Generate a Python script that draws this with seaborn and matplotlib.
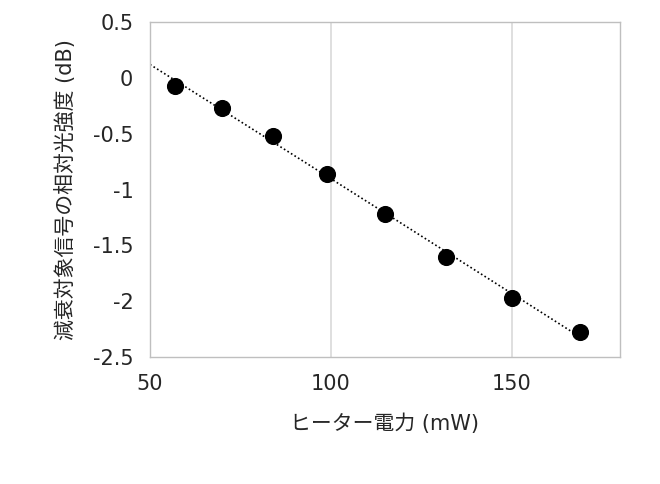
import numpy as np
import matplotlib
matplotlib.use("Agg")
import matplotlib.pyplot as plt
import seaborn as sns

power_mw = [57, 70, 84, 99, 115, 132, 150, 169]
rel_db = [-0.07, -0.27, -0.52, -0.86, -1.22, -1.60, -1.97, -2.28]
xticks = [50, 100, 150]
yticks = [0.5, 0, -0.5, -1, -1.5, -2, -2.5]
ytick_labels = ["0.5", "0", "-0.5", "-1", "-1.5", "-2", "-2.5"]

sns.set_style("white")
plt.rcParams['font.family'] = ['DejaVu Sans', 'Noto Sans CJK JP']

fig = plt.figure(figsize=(6.6, 4.84), dpi=100)
ax = fig.add_axes([150/660, 1-357/484, 470/660, 335/484])

coef = np.polyfit(power_mw, rel_db, 2)
xs = np.linspace(50, 170, 200)
ax.plot(xs, np.polyval(coef, xs), linestyle=(0, (1, 1.5)), color="black", lw=1.2, zorder=2)
sns.scatterplot(x=power_mw, y=rel_db, ax=ax, s=130, color="black", edgecolor="black", zorder=3)

ax.set_xlim(50, 180)
ax.set_ylim(-2.5, 0.5)
ax.set_xticks(xticks)
ax.set_yticks(yticks)
ax.set_yticklabels(ytick_labels)
ax.grid(axis="x", color="#d9d9d9", lw=1.2)
ax.grid(axis="y", visible=False)
for s in ax.spines.values():
    s.set_color("#bfbfbf")
    s.set_linewidth(1.0)
ax.tick_params(axis="both", labelsize=15, length=0, pad=12)
ax.set_xlabel("ヒーター電力 (mW)", fontsize=15, labelpad=14)
ax.set_ylabel("減衰対象信号の相対光強度 (dB)", fontsize=15, labelpad=12)
fig.savefig("out.png", dpi=100)
